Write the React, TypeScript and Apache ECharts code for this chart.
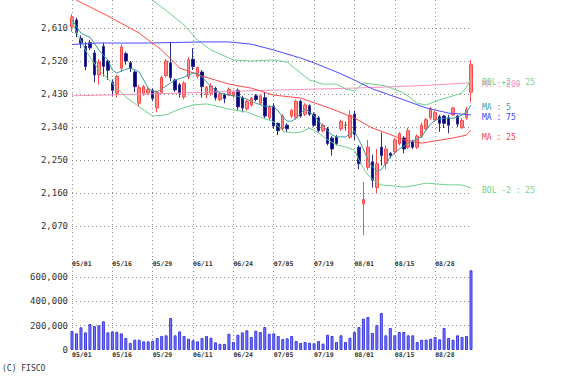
import React, { useEffect, useRef } from "react";
import * as echarts from "echarts";

const dates = [
  "05/01","05/02","05/07","05/08","05/09","05/10","05/13","05/14","05/15","05/16",
  "05/17","05/20","05/21","05/22","05/23","05/24","05/27","05/28","05/29","05/30",
  "05/31","06/03","06/04","06/05","06/06","06/07","06/10","06/11","06/12","06/13",
  "06/14","06/17","06/18","06/19","06/20","06/21","06/24","06/25","06/26","06/27",
  "06/28","07/01","07/02","07/03","07/04","07/05","07/08","07/09","07/10","07/11",
  "07/12","07/16","07/17","07/18","07/19","07/22","07/23","07/24","07/25","07/26",
  "07/29","07/30","07/31","08/01","08/02","08/05","08/06","08/07","08/08","08/09",
  "08/13","08/14","08/15","08/16","08/19","08/20","08/21","08/22","08/23","08/26",
  "08/27","08/28","08/29","08/30","09/02","09/03","09/04","09/05","09/06","09/09"
];

// [open, close, low, high]
const candles = [
  [2613,2640,2600,2648],[2632,2597,2585,2638],[2582,2568,2555,2590],[2560,2505,2495,2572],[2570,2556,2550,2577],
  [2542,2482,2462,2550],[2482,2517,2455,2525],[2560,2505,2478,2570],[2520,2495,2468,2525],[2462,2440,2425,2470],
  [2432,2478,2420,2482],[2500,2558,2490,2565],[2540,2520,2510,2545],[2515,2500,2490,2520],[2490,2450,2435,2495],
  [2405,2447,2395,2455],[2432,2450,2425,2455],[2433,2442,2428,2448],[2440,2418,2410,2445],[2392,2435,2380,2440],
  [2435,2475,2430,2480],[2480,2520,2475,2525],[2515,2475,2465,2572],[2468,2441,2436,2472],[2455,2432,2420,2460],
  [2422,2460,2415,2465],[2477,2523,2470,2530],[2525,2505,2495,2555],[2478,2502,2472,2505],[2490,2450,2420,2495],
  [2428,2448,2418,2452],[2432,2452,2425,2460],[2445,2420,2412,2450],[2415,2430,2410,2435],[2428,2418,2405,2432],
  [2428,2442,2425,2448],[2425,2435,2418,2440],[2440,2395,2385,2445],[2420,2392,2380,2425],[2390,2410,2385,2415],
  [2400,2418,2395,2422],[2425,2415,2410,2430],[2405,2425,2400,2430],[2420,2370,2365,2435],[2365,2395,2358,2400],
  [2397,2343,2335,2405],[2350,2330,2318,2352],[2335,2370,2330,2375],[2345,2335,2325,2350],[2370,2385,2365,2390],
  [2365,2410,2360,2415],[2410,2370,2365,2415],[2375,2400,2370,2405],[2398,2375,2370,2402],[2375,2345,2340,2380],
  [2365,2330,2325,2370],[2330,2345,2325,2350],[2335,2295,2290,2340],[2310,2280,2262,2315],[2312,2295,2290,2318],
  [2335,2355,2330,2360],[2345,2345,2330,2355],[2312,2372,2308,2385],[2375,2320,2305,2385],[2285,2240,2225,2290],
  [2130,2142,2045,2190],[2230,2285,2222,2305],[2245,2195,2175,2265],[2175,2240,2160,2280],[2285,2262,2235,2325],
  [2240,2280,2225,2290],[2268,2262,2255,2272],[2272,2305,2265,2310],[2295,2322,2290,2326],[2310,2280,2268,2315],
  [2285,2330,2280,2338],[2300,2285,2280,2305],[2285,2315,2280,2320],[2315,2345,2310,2352],[2335,2360,2330,2365],
  [2365,2390,2360,2395],[2360,2380,2355,2385],[2368,2350,2327,2373],[2370,2350,2337,2373],[2365,2345,2323,2373],
  [2373,2392,2370,2395],[2370,2348,2340,2373],[2338,2358,2335,2365],[2365,2388,2360,2395],[2435,2510,2407,2523]
];

const volumes = [
  156000,137000,187000,145000,214000,197000,203000,236000,145000,152000,
  150000,137000,99000,58000,85000,85000,71000,71000,76000,99000,
  115000,121000,263000,121000,153000,115000,93000,80000,71000,99000,
  115000,101000,63000,51000,51000,134000,66000,126000,145000,162000,
  107000,159000,148000,189000,134000,137000,115000,90000,96000,115000,
  74000,58000,66000,60000,55000,74000,53000,126000,115000,66000,
  121000,66000,101000,148000,189000,258000,272000,140000,206000,305000,
  121000,181000,121000,148000,148000,121000,121000,66000,85000,85000,
  93000,107000,88000,181000,99000,85000,121000,107000,115000,656000
];

const ma5 = [
  2632,2614,2596,2590,2585,2568,2550,2536,2523,2495,
  2487,2493,2497,2501,2496,2490,2468,2446,2438,2436,
  2444,2452,2460,2468,2472,2476,2482,2487,2487,2476,
  2463,2449,2441,2433,2430,2427,2425,2424,2420,2416,
  2410,2405,2401,2397,2396,2395,2384,2367,2356,2356,
  2364,2378,2389,2381,2370,2356,2343,2329,2318,2313,
  2313,2313,2321,2329,2305,2280,2250,2231,2220,2223,
  2242,2258,2269,2280,2288,2296,2302,2307,2313,2332,
  2348,2359,2362,2364,2364,2364,2367,2373,2381,2400
];

const ma25 = [
  [0,2695],[1,2686],[8,2643],[15,2596],[20,2550],[24,2501],[29,2479],[35,2457],[40,2446],
  [45,2427],[51,2419],[58,2389],[63,2365],[67,2337],[70,2324],[74,2305],[78,2296],[81,2302],
  [85,2310],[88,2318],[89,2332]
];

const ma75 = [
  [0,2565],[6,2569],[17,2569],[29,2572],[35,2572],[40,2566],[45,2550],[51,2528],[54,2515],
  [60,2485],[63,2468],[67,2444],[74,2414],[79,2392],[84,2378],[89,2373]
];

const ma200 = [
  [0,2425],[10,2428],[20,2431],[30,2435],[40,2439],[50,2442],[60,2445],[70,2449],[80,2454],[89,2461]
];

const bolUpper = [
  [0,2780],[9,2760],[15,2715],[18,2686],[22,2648],[25,2618],[28,2577],[31,2550],[36,2523],
  [40,2520],[45,2523],[48,2517],[51,2487],[53,2468],[56,2457],[59,2457],[61,2444],[63,2438],
  [65,2460],[67,2457],[70,2452],[74,2433],[77,2405],[79,2400],[82,2414],[85,2425],[87,2433],
  [88,2449],[89,2471]
];

const bolLower = [
  [0,2626],[1,2599],[3,2550],[6,2495],[9,2460],[12,2422],[15,2395],[18,2370],[21,2373],
  [24,2389],[27,2400],[30,2403],[33,2395],[36,2386],[39,2381],[42,2367],[45,2354],[47,2329],
  [49,2324],[51,2326],[53,2337],[55,2324],[57,2305],[59,2291],[61,2286],[63,2277],[64,2250],
  [65,2228],[66,2209],[67,2198],[69,2182],[72,2179],[74,2176],[77,2182],[79,2187],[81,2185],
  [84,2182],[87,2182],[89,2174]
];

const MONO = "DejaVu Sans Mono";
const GRID_LINE = { type: [1, 3] as any, color: "#8c8c8c", width: 1 };

function lineSeries(name: string, data: any, color: string, label: string, labelColor: string, dy: number) {
  return {
    name,
    type: "line",
    xAxisIndex: 0,
    yAxisIndex: 0,
    data,
    symbol: "none",
    silent: true,
    lineStyle: { color, width: 1 },
    endLabel: {
      show: true,
      formatter: label,
      color: labelColor,
      fontFamily: MONO,
      fontSize: 8,
      offset: [3, dy],
    },
  };
}

export default function App() {
  const ref = useRef<HTMLDivElement>(null);
  useEffect(() => {
    if (!ref.current) return;
    const chart = echarts.init(ref.current, undefined, { renderer: "svg" });
    const dateAxis = (gridIndex: number) => ({
      type: "category",
      gridIndex,
      data: dates,
      boundaryGap: false,
      axisLine: { show: false },
      axisTick: { show: false },
      axisLabel: {
        interval: 8,
        align: "left",
        margin: 1,
        fontSize: 6.5,
        fontWeight: "bold",
        fontFamily: MONO,
        color: "#333",
      },
      splitLine: { show: true, interval: 8, lineStyle: GRID_LINE },
    });
    const option: any = {
      animation: false,
      backgroundColor: "#ffffff",
      grid: [
        { left: 72, top: 0, width: 399, height: 259 },
        { left: 72, top: 259, width: 399, height: 91 },
      ],
      xAxis: [dateAxis(0), dateAxis(1)],
      yAxis: [
        {
          type: "value",
          gridIndex: 0,
          min: 1980,
          max: 2686.4,
          interval: 90,
          axisLine: { show: false },
          axisTick: { show: false },
          axisLabel: {
            showMinLabel: false,
            showMaxLabel: false,
            margin: 4,
            fontSize: 9,
            fontFamily: MONO,
            color: "#333",
            formatter: (v: number) => Math.round(v).toLocaleString("en-US"),
          },
          splitLine: { show: true, showMinLine: false, showMaxLine: false, lineStyle: GRID_LINE },
        },
        {
          type: "value",
          gridIndex: 1,
          min: 0,
          max: 749000,
          interval: 200000,
          axisLine: { show: false },
          axisTick: { show: false },
          axisLabel: {
            showMaxLabel: false,
            margin: 4,
            fontSize: 9,
            fontFamily: MONO,
            color: "#333",
            formatter: (v: number) => Math.round(v).toLocaleString("en-US"),
          },
          splitLine: { show: true, showMinLine: false, showMaxLine: false, lineStyle: GRID_LINE },
        },
      ],
      series: [
        lineSeries("MA200", ma200, "#ff8fbf", "MA : 200", "#ff8fbf", 2),
        lineSeries("BOL+2", bolUpper, "#6fcf8f", "BOL +2 : 25", "#6fcf8f", 4),
        lineSeries("BOL-2", bolLower, "#6fcf8f", "BOL -2 : 25", "#6fcf8f", 3),
        lineSeries("MA75", ma75, "#4a4aff", "MA : 75", "#3a3aff", 3),
        lineSeries("MA25", ma25, "#ff4a4a", "MA : 25", "#ff4040", 8),
        {
          name: "candle",
          type: "candlestick",
          xAxisIndex: 0,
          yAxisIndex: 0,
          data: candles,
          barWidth: 3,
          clip: false,
          silent: true,
          itemStyle: {
            color: "#ff8a8a",
            color0: "#00007f",
            borderColor: "#ff4a4a",
            borderColor0: "#2a2a8f",
            borderColorDoji: "#1a8a1a",
            borderWidth: 1,
          },
        },
        lineSeries("MA5", ma5, "#3c9c9c", "MA : 5", "#3c9c9c", 2),
        {
          name: "volume",
          type: "bar",
          xAxisIndex: 1,
          yAxisIndex: 1,
          data: volumes,
          barWidth: 3,
          clip: false,
          silent: true,
          itemStyle: { color: "#7a7aff", borderColor: "#3a3ae0", borderWidth: 1 },
        },
      ],
      graphic: [
        {
          type: "text",
          left: 2,
          top: 364,
          style: { text: "(C) FISCO", font: "8px 'DejaVu Sans Mono'", fill: "#333" },
        },
      ],
    };
    chart.setOption(option);
    return () => chart.dispose();
  }, []);
  return (
    <div
      ref={ref}
      style={{ position: "fixed", left: 0, top: 0, width: 561, height: 376, background: "#fff" }}
    />
  );
}
